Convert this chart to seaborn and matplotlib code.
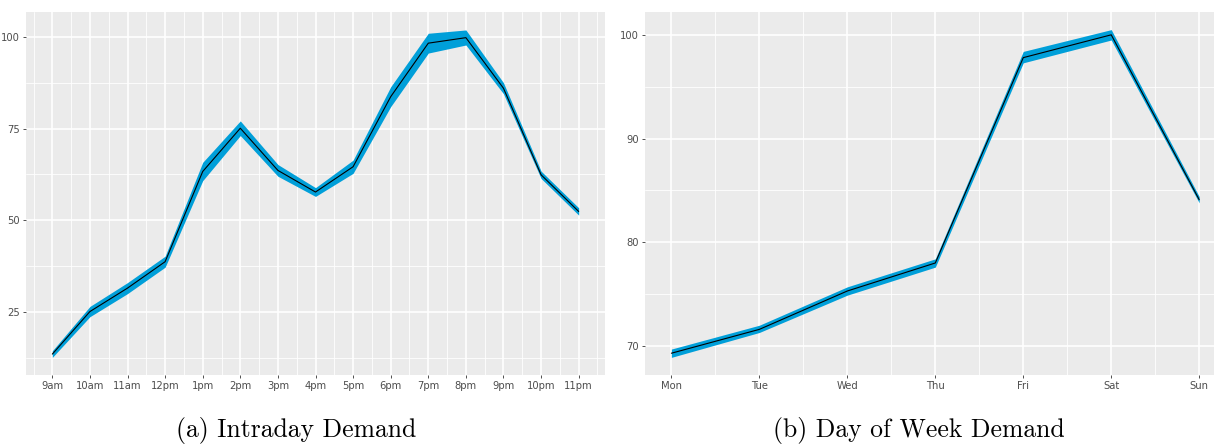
import numpy as np
import pandas as pd
import matplotlib
matplotlib.use("Agg")
import matplotlib.pyplot as plt
import seaborn as sns
from matplotlib.ticker import FixedLocator

# ---- data ----
hours = ["9am", "10am", "11am", "12pm", "1pm", "2pm", "3pm", "4pm",
         "5pm", "6pm", "7pm", "8pm", "9pm", "10pm", "11pm"]
hour_mean = [13.5, 25.1, 31.5, 38.7, 63.3, 75.1, 63.6, 57.7,
             64.6, 83.7, 98.3, 99.8, 86.0, 62.4, 52.4]
hour_lower = [12.6, 23.7, 30.0, 37.2, 60.8, 73.1, 62.0, 56.5,
              62.8, 81.0, 95.6, 97.8, 84.5, 61.4, 51.4]
hour_upper = [14.4, 26.5, 33.0, 40.2, 65.8, 77.1, 65.2, 58.9,
              66.4, 86.4, 101.0, 101.9, 87.5, 63.4, 53.4]

days = ["Mon", "Tue", "Wed", "Thu", "Fri", "Sat", "Sun"]
day_mean = [69.3, 71.6, 75.3, 78.0, 97.8, 100.0, 84.1]
day_lower = [68.9, 71.3, 74.9, 77.6, 97.3, 99.5, 83.8]
day_upper = [69.7, 72.0, 75.7, 78.4, 98.4, 100.5, 84.4]

hour_ticks = [25, 50, 75, 100]
day_ticks = [70, 80, 90, 100]

captions = ["(a) Intraday Demand", "(b) Day of Week Demand"]

# ---- style ----
sns.set_theme(style="darkgrid")
BAND = "#009FD9"
PANEL = "#EBEBEB"

W, H = 1214, 444
fig = plt.figure(figsize=(W / 100, H / 100), dpi=100)


def px_axes(x0, y0, x1, y1):
    return fig.add_axes([x0 / W, 1 - y1 / H, (x1 - x0) / W, (y1 - y0) / H])


def style_axes(ax, xminor, yminor):
    ax.set_facecolor(PANEL)
    for s in ax.spines.values():
        s.set_visible(False)
    ax.xaxis.set_minor_locator(FixedLocator(xminor))
    ax.yaxis.set_minor_locator(FixedLocator(yminor))
    ax.grid(which="major", color="white", linewidth=1.2)
    ax.grid(which="minor", color="white", linewidth=0.6)
    ax.set_axisbelow(True)
    ax.tick_params(which="major", length=2.5, width=0.6, color="#333333",
                   labelcolor="#4D4D4D", labelsize=7.2, pad=2,
                   bottom=True, left=True)
    ax.tick_params(which="minor", length=0)
    ax.set_xlabel("")
    ax.set_ylabel("")
    for lab in ax.get_xticklabels() + ax.get_yticklabels():
        lab.set_fontfamily(["Liberation Sans Narrow", "DejaVu Sans"])


# panel (a)
ax1 = px_axes(26, 12, 605, 375)
df1 = pd.DataFrame({"x": np.arange(len(hours)), "mean": hour_mean,
                    "lo": hour_lower, "hi": hour_upper})
ax1.fill_between(df1["x"], df1["lo"], df1["hi"], color=BAND, linewidth=0,
                 zorder=2)
sns.lineplot(data=df1, x="x", y="mean", ax=ax1, color="black",
             linewidth=0.8, zorder=3)
ax1.set_xlim(-0.7, len(hours) - 1 + 0.7)
ax1.set_ylim(7.8, 106.8)
ax1.set_xticks(np.arange(len(hours)))
ax1.set_xticklabels(hours)
ax1.set_yticks(hour_ticks)
ax1.set_yticklabels([str(t) for t in hour_ticks])
style_axes(ax1, np.arange(len(hours) + 1) - 0.5,
           [12.5, 37.5, 62.5, 87.5])

# panel (b)
ax2 = px_axes(645, 12, 1225.6, 375)
df2 = pd.DataFrame({"x": np.arange(len(days)), "mean": day_mean,
                    "lo": day_lower, "hi": day_upper})
ax2.fill_between(df2["x"], df2["lo"], df2["hi"], color=BAND, linewidth=0,
                 zorder=2)
sns.lineplot(data=df2, x="x", y="mean", ax=ax2, color="black",
             linewidth=0.8, zorder=3)
ax2.set_xlim(-0.3, len(days) - 1 + 0.3)
ax2.set_ylim(67.2, 102.2)
ax2.set_xticks(np.arange(len(days)))
ax2.set_xticklabels(days)
ax2.set_yticks(day_ticks)
ax2.set_yticklabels([str(t) for t in day_ticks])
style_axes(ax2, np.arange(len(days) - 1) + 0.5, [75, 85, 95])

# captions
fig.text(296 / W, 1 - 430 / H, captions[0], ha="center", va="center",
         fontsize=18.5, family=["cmr10", "DejaVu Serif"], color="black")
fig.text(919 / W, 1 - 430 / H, captions[1], ha="center", va="center",
         fontsize=18.5, family=["cmr10", "DejaVu Serif"], color="black")

fig.savefig("out.png", dpi=100, facecolor="white")
